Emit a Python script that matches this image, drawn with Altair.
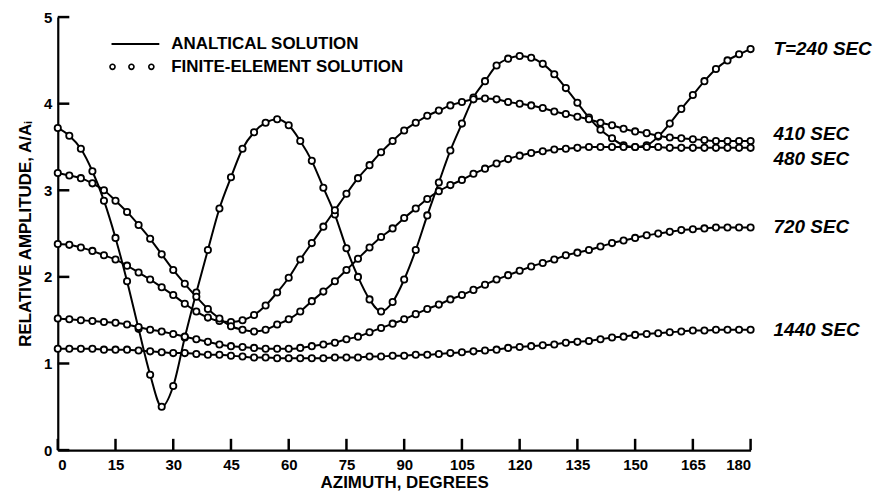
import altair as alt
import pandas as pd

# ---- data ----
azimuth = [0, 3, 6, 9, 12, 15, 18, 21, 24, 27, 30, 33, 36, 39, 42, 45, 48, 51, 54, 57,
           60, 63, 66, 69, 72, 75, 78, 81, 84, 87, 90, 93, 96, 99, 102, 105, 108, 111, 114, 117,
           120, 123, 126, 129, 132, 135, 138, 141, 144, 147, 150, 153, 156, 159, 162, 165, 168, 171, 174, 177, 180]

amp_240 = [3.72, 3.63, 3.48, 3.22, 2.88, 2.45, 1.95, 1.40, 0.87, 0.50, 0.74, 1.30, 1.82, 2.31, 2.79, 3.15,
           3.48, 3.67, 3.78, 3.82, 3.75, 3.57, 3.34, 3.03, 2.72, 2.33, 2.00, 1.74, 1.60, 1.71, 1.97, 2.31,
           2.71, 3.09, 3.46, 3.77, 4.07, 4.26, 4.44, 4.52, 4.55, 4.53, 4.46, 4.34, 4.18, 4.01, 3.84, 3.70,
           3.60, 3.52, 3.50, 3.52, 3.62, 3.77, 3.94, 4.10, 4.26, 4.40, 4.50, 4.57, 4.63]
amp_410 = [2.38, 2.37, 2.34, 2.30, 2.25, 2.20, 2.13, 2.05, 1.97, 1.88, 1.79, 1.69, 1.60, 1.53, 1.49, 1.48,
           1.50, 1.56, 1.67, 1.82, 1.99, 2.20, 2.39, 2.58, 2.77, 2.96, 3.14, 3.29, 3.44, 3.57, 3.69, 3.78,
           3.86, 3.92, 3.98, 4.02, 4.05, 4.06, 4.05, 4.02, 4.00, 3.98, 3.95, 3.91, 3.88, 3.85, 3.82, 3.78,
           3.75, 3.71, 3.68, 3.66, 3.63, 3.61, 3.60, 3.59, 3.58, 3.57, 3.57, 3.57, 3.57]
amp_480 = [3.20, 3.17, 3.14, 3.08, 3.00, 2.88, 2.75, 2.60, 2.44, 2.26, 2.08, 1.92, 1.77, 1.63, 1.52, 1.43,
           1.39, 1.37, 1.39, 1.45, 1.51, 1.60, 1.72, 1.83, 1.95, 2.08, 2.21, 2.34, 2.46, 2.56, 2.68, 2.79,
           2.90, 2.99, 3.06, 3.12, 3.19, 3.25, 3.31, 3.36, 3.40, 3.43, 3.45, 3.47, 3.48, 3.49, 3.50, 3.50,
           3.50, 3.50, 3.50, 3.50, 3.50, 3.49, 3.49, 3.49, 3.49, 3.49, 3.49, 3.49, 3.49]
amp_720 = [1.52, 1.51, 1.50, 1.49, 1.48, 1.47, 1.45, 1.42, 1.39, 1.37, 1.34, 1.31, 1.28, 1.25, 1.22, 1.20,
           1.19, 1.18, 1.17, 1.17, 1.17, 1.18, 1.20, 1.22, 1.24, 1.28, 1.31, 1.36, 1.41, 1.46, 1.51, 1.57,
           1.63, 1.68, 1.74, 1.79, 1.85, 1.91, 1.97, 2.02, 2.07, 2.12, 2.16, 2.20, 2.25, 2.28, 2.31, 2.35,
           2.39, 2.42, 2.45, 2.48, 2.50, 2.52, 2.54, 2.55, 2.56, 2.57, 2.57, 2.57, 2.57]
amp_1440 = [1.17, 1.17, 1.17, 1.17, 1.16, 1.16, 1.16, 1.15, 1.14, 1.13, 1.12, 1.12, 1.11, 1.10, 1.10, 1.09,
            1.08, 1.07, 1.07, 1.06, 1.06, 1.06, 1.06, 1.06, 1.07, 1.07, 1.07, 1.08, 1.08, 1.09, 1.09, 1.10,
            1.10, 1.11, 1.12, 1.13, 1.14, 1.15, 1.16, 1.18, 1.19, 1.20, 1.21, 1.22, 1.24, 1.25, 1.26, 1.28,
            1.30, 1.31, 1.33, 1.34, 1.35, 1.36, 1.37, 1.38, 1.38, 1.39, 1.39, 1.39, 1.39]

series_names = ["T=240 SEC", "410 SEC", "480 SEC", "720 SEC", "1440 SEC"]
series_values = [amp_240, amp_410, amp_480, amp_720, amp_1440]

x_ticks = [0, 15, 30, 45, 60, 75, 90, 105, 120, 135, 150, 165, 180]
y_ticks = [0, 1, 2, 3, 4, 5]

legend_labels = ["ANALTICAL SOLUTION", "FINITE-ELEMENT SOLUTION"]

# ---- tables ----
rows = []
for name, vals in zip(series_names, series_values):
    for a, v in zip(azimuth, vals):
        rows.append({"series": name, "az": a, "amp": v})
df = pd.DataFrame(rows)

lab_df = pd.DataFrame({"series": series_names,
                       "az": [azimuth[-1]] * 5,
                       "amp": [vals[-1] for vals in series_values]})

# inward tick marks: each tick value becomes a short two-point segment inside the plot
tick_rows = []
for t in x_ticks:
    tick_rows.append({"id": f"x{t}", "az": t, "amp": 0.0})
    tick_rows.append({"id": f"x{t}", "az": t, "amp": 0.13})
for t in y_ticks:
    tick_rows.append({"id": f"y{t}", "az": 0.0, "amp": t})
    tick_rows.append({"id": f"y{t}", "az": 3.0, "amp": t})
tick_df = pd.DataFrame(tick_rows)

FONT = "Liberation Sans"
xs = alt.Scale(domain=[0, 180], nice=False)
ys = alt.Scale(domain=[0, 5], nice=False)

base = alt.Chart(df)

lines = base.mark_line(color="black", strokeWidth=2, interpolate="monotone").encode(
    x=alt.X("az:Q", scale=xs,
            axis=alt.Axis(values=x_ticks, title="AZIMUTH, DEGREES", ticks=False, grid=False, format="d",
                          domainColor="black", domainWidth=2.2, labelPadding=7,
                          labelFont=FONT, labelFontWeight="bold", labelFontSize=15, labelColor="black",
                          titleFont=FONT, titleFontWeight="bold", titleFontSize=17, titleColor="black",
                          titlePadding=3)),
    y=alt.Y("amp:Q", scale=ys,
            axis=alt.Axis(values=y_ticks, title="RELATIVE AMPLITUDE, A/Aᵢ", ticks=False, grid=False,
                          format="d",
                          domainColor="black", domainWidth=2.2, labelPadding=6,
                          labelFont=FONT, labelFontWeight="bold", labelFontSize=15, labelColor="black",
                          titleFont=FONT, titleFontWeight="bold", titleFontSize=17, titleColor="black",
                          titlePadding=9)),
    detail="series:N",
)

points = base.mark_point(shape="circle", filled=True, fill="white", stroke="black",
                         strokeWidth=1.8, size=40, opacity=1).encode(
    x=alt.X("az:Q", scale=xs), y=alt.Y("amp:Q", scale=ys), detail="series:N")

ticks = alt.Chart(tick_df).mark_line(color="black", strokeWidth=2.5).encode(
    x=alt.X("az:Q", scale=xs), y=alt.Y("amp:Q", scale=ys), detail="id:N")

def lab_layer(names, dy):
    return alt.Chart(lab_df[lab_df.series.isin(names)]).mark_text(
        align="left", baseline="middle", dx=23, dy=dy, font=FONT, fontSize=19, fontStyle="italic",
        fontWeight="bold", color="black").encode(
        x=alt.X("az:Q", scale=xs), y=alt.Y("amp:Q", scale=ys), text="series:N")

lab_main = lab_layer(["T=240 SEC", "720 SEC", "1440 SEC"], 0)
lab_410 = lab_layer(["410 SEC"], -7)
lab_480 = lab_layer(["480 SEC"], 11)

# ---- manual legend (pixel layout inside the plot area) ----
one = pd.DataFrame({"a": [0]})
leg_line = alt.Chart(one).mark_rule(color="black", strokeWidth=2).encode(
    x=alt.value(54), x2=alt.value(102), y=alt.value(27))
leg_pts = [alt.Chart(one).mark_point(shape="circle", filled=True, fill="white", stroke="black",
                                     strokeWidth=1.6, size=26, opacity=1).encode(
    x=alt.value(px), y=alt.value(50)) for px in (55, 74, 94)]
leg_txt = [alt.Chart(one).mark_text(align="left", baseline="middle", font=FONT, fontSize=17,
                                    fontWeight="bold", color="black", text=txt).encode(
    x=alt.value(114), y=alt.value(py)) for txt, py in zip(legend_labels, (27, 50))]

chart = alt.layer(lines, points, lab_main, lab_410, lab_480, leg_line, *leg_pts, *leg_txt, ticks).properties(
    width=696, height=435,
    autosize=alt.AutoSizeParams(type="none"),
    padding={"left": 50, "top": 8, "right": 130, "bottom": 45},
).configure_view(stroke=None)

chart.save("out.html", embed_options={"renderer": "svg", "actions": False})
